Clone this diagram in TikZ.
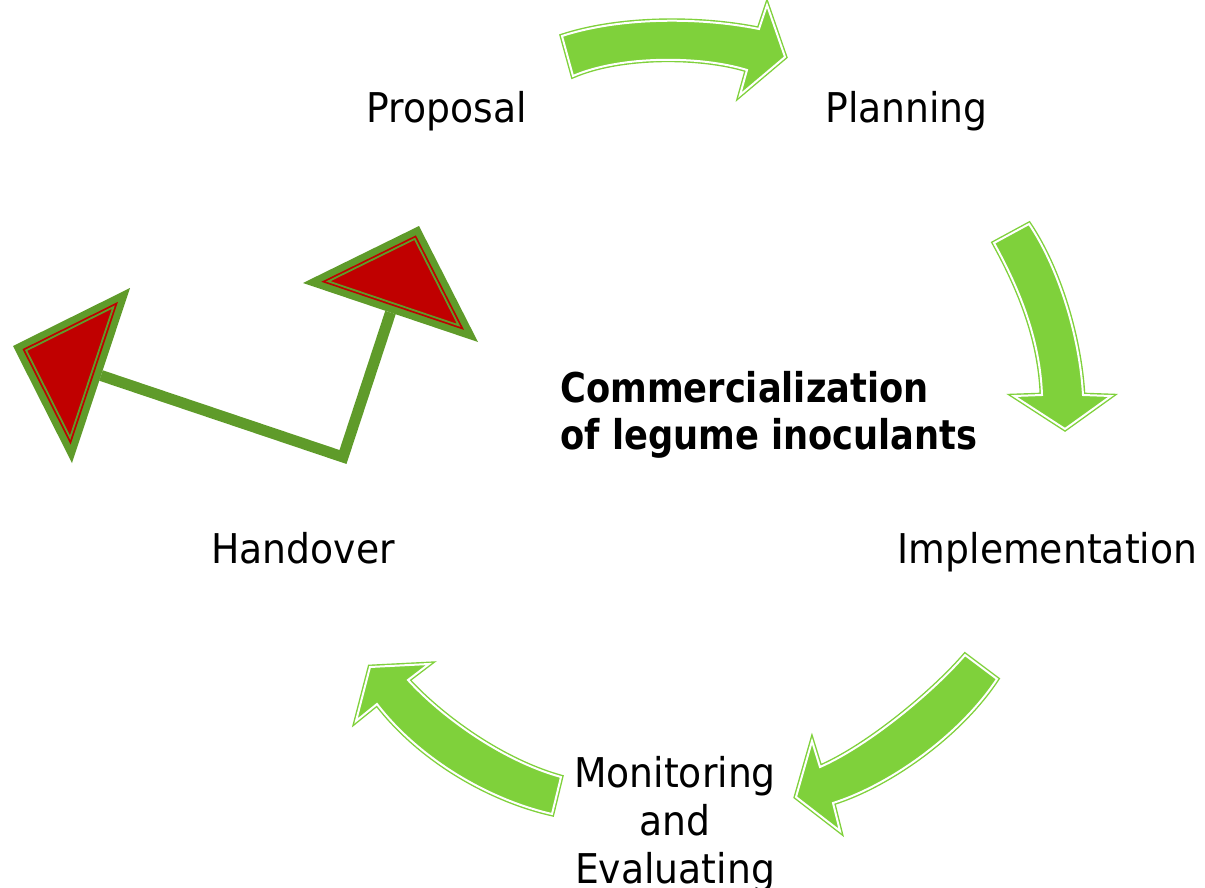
\documentclass[tikz,border=0pt]{standalone}
\usepackage{fontspec}
\setmainfont{DejaVu Sans}[FakeStretch=0.92]
\newfontfamily\titlefont{DejaVu Sans}[FakeStretch=0.86]
\usetikzlibrary{calc}
\definecolor{arrowgreen}{HTML}{7FD13B}
\definecolor{darkgreen}{HTML}{5F9B2A}
\definecolor{tred}{HTML}{C00000}
\newcommand\redtri[4]{%
  \fill[darkgreen] (#2) -- (#3) -- (#4) -- cycle;
  \fill[tred] ($(#1)!0.815!(#2)$) -- ($(#1)!0.815!(#3)$) -- ($(#1)!0.815!(#4)$) -- cycle;
  \draw[darkgreen, line width=1.8pt] ($(#1)!0.745!(#2)$) -- ($(#1)!0.745!(#3)$) -- ($(#1)!0.745!(#4)$) -- cycle;
}
\begin{document}
\begin{tikzpicture}[x=1pt,y=-1pt,
  blockarrow/.style={fill=arrowgreen, draw=arrowgreen, double=white, double distance=2pt, line width=1.4pt, line join=miter},
  connector/.style={draw=darkgreen, line width=11pt, line join=miter},
  lbl/.style={font=\fontsize{41}{49}\selectfont, inner sep=0pt, anchor=base},
  titlelbl/.style={font=\fontsize{41}{49}\selectfont\titlefont\bfseries, inner sep=0pt, anchor=base west}]
\useasboundingbox (0,0) rectangle (1205,888);

% curved block arrows
\path[blockarrow] (562,36) .. controls (620,17) and (700,17) .. (759,29) -- (767,5) -- (785,57) -- (740,95) -- (747,70) .. controls (700,55.5) and (620,55.5) .. (573,76) -- cycle;
\path[blockarrow] (994,243) -- (1029,224) .. controls (1060,270) and (1080,340) .. (1083,395) -- (1111,396) -- (1065,429) -- (1014,396) -- (1042,395) .. controls (1040,340) and (1020,290) .. (994,243) -- cycle;
\path[blockarrow] (965,655) -- (997,679) .. controls (960,735) and (890,785) .. (833,803) -- (840,831) -- (796,797) -- (812,741) -- (820,767) .. controls (870,745) and (935,690) .. (965,655) -- cycle;
\path[blockarrow] (561,777) -- (552,814) .. controls (490,800) and (420,760) .. (377,704) -- (356,721) -- (370,667) -- (429,664) -- (408,680) .. controls (440,715) and (500,760) .. (561,777) -- cycle;

% elbow connector with triangle heads
\coordinate (LA) at (13,346);
\coordinate (LB) at (130,288);
\coordinate (LC) at (72,463);
\coordinate (LI) at (64.6,363.2);
\coordinate (RA) at (303,283);
\coordinate (RB) at (419,226);
\coordinate (RC) at (478,342);
\coordinate (RI) at (402.2,276.5);
\coordinate (Lend) at ($(LB)!0.5!(LC)$);
\coordinate (corner) at (343,457);
\coordinate (Rend) at ($(RA)!0.5!(RC)$);
\draw[connector] (Lend) -- (corner) -- (Rend);
\redtri{LI}{LA}{LB}{LC}
\redtri{RI}{RA}{RB}{RC}

% labels
\node[lbl] (proposal) at (446.5,123) {Proposal};
\node[lbl] (planning) at (906.5,123) {Planning};
\node[lbl] (impl) at (1047.5,563) {Implementation};
\node[lbl] (handover) at (303,563) {Handover};
\node[titlelbl] (title1) at (560,402) {Commercialization};
\node[titlelbl] (title2) at (560,449) {of legume inoculants};
\node[lbl] (mon1) at (675,787) {Monitoring};
\node[lbl] (mon2) at (675,835) {and};
\node[lbl] (mon3) at (675,883) {Evaluating};
\end{tikzpicture}
\end{document}
